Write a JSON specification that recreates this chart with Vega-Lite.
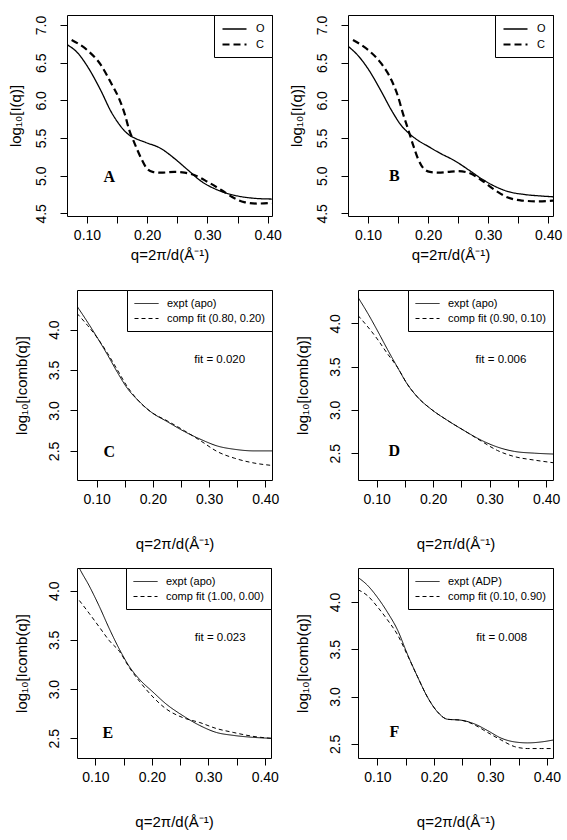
{
  "$schema": "https://vega.github.io/schema/vega-lite/v6.json",
  "padding": {"left": 7, "top": 14, "right": 0, "bottom": 5},
  "background": "white",
  "datasets": {
    "curves": [
      {"p":"A","s":"O","q":0.0668,"v":6.74},{"p":"A","s":"O","q":0.0845,"v":6.63},{"p":"A","s":"O","q":0.10,"v":6.46},{"p":"A","s":"O","q":0.123,"v":6.13},{"p":"A","s":"O","q":0.140,"v":5.85},{"p":"A","s":"O","q":0.151,"v":5.71},{"p":"A","s":"O","q":0.170,"v":5.54},{"p":"A","s":"O","q":0.179,"v":5.50},{"p":"A","s":"O","q":0.198,"v":5.44},{"p":"A","s":"O","q":0.223,"v":5.36},{"p":"A","s":"O","q":0.245,"v":5.23},{"p":"A","s":"O","q":0.267,"v":5.08},{"p":"A","s":"O","q":0.289,"v":4.93},{"p":"A","s":"O","q":0.317,"v":4.81},{"p":"A","s":"O","q":0.345,"v":4.74},{"p":"A","s":"O","q":0.378,"v":4.70},{"p":"A","s":"O","q":0.407,"v":4.69},
      {"p":"A","s":"C","q":0.0745,"v":6.80},{"p":"A","s":"C","q":0.10,"v":6.67},{"p":"A","s":"C","q":0.123,"v":6.47},{"p":"A","s":"C","q":0.140,"v":6.23},{"p":"A","s":"C","q":0.154,"v":6.01},{"p":"A","s":"C","q":0.163,"v":5.81},{"p":"A","s":"C","q":0.170,"v":5.61},{"p":"A","s":"C","q":0.179,"v":5.43},{"p":"A","s":"C","q":0.190,"v":5.23},{"p":"A","s":"C","q":0.199,"v":5.10},{"p":"A","s":"C","q":0.209,"v":5.05},{"p":"A","s":"C","q":0.223,"v":5.04},{"p":"A","s":"C","q":0.245,"v":5.05},{"p":"A","s":"C","q":0.262,"v":5.04},{"p":"A","s":"C","q":0.278,"v":5.01},{"p":"A","s":"C","q":0.300,"v":4.92},{"p":"A","s":"C","q":0.323,"v":4.81},{"p":"A","s":"C","q":0.345,"v":4.70},{"p":"A","s":"C","q":0.361,"v":4.65},{"p":"A","s":"C","q":0.383,"v":4.63},{"p":"A","s":"C","q":0.407,"v":4.64},
      {"p":"B","s":"O","q":0.0667,"v":6.72},{"p":"B","s":"O","q":0.085,"v":6.58},{"p":"B","s":"O","q":0.10,"v":6.42},{"p":"B","s":"O","q":0.122,"v":6.12},{"p":"B","s":"O","q":0.139,"v":5.87},{"p":"B","s":"O","q":0.156,"v":5.66},{"p":"B","s":"O","q":0.170,"v":5.55},{"p":"B","s":"O","q":0.183,"v":5.47},{"p":"B","s":"O","q":0.200,"v":5.39},{"p":"B","s":"O","q":0.222,"v":5.29},{"p":"B","s":"O","q":0.244,"v":5.20},{"p":"B","s":"O","q":0.267,"v":5.08},{"p":"B","s":"O","q":0.289,"v":4.96},{"p":"B","s":"O","q":0.311,"v":4.86},{"p":"B","s":"O","q":0.333,"v":4.79},{"p":"B","s":"O","q":0.361,"v":4.75},{"p":"B","s":"O","q":0.389,"v":4.73},{"p":"B","s":"O","q":0.408,"v":4.72},
      {"p":"B","s":"C","q":0.075,"v":6.80},{"p":"B","s":"C","q":0.10,"v":6.67},{"p":"B","s":"C","q":0.122,"v":6.49},{"p":"B","s":"C","q":0.139,"v":6.27},{"p":"B","s":"C","q":0.150,"v":6.05},{"p":"B","s":"C","q":0.158,"v":5.83},{"p":"B","s":"C","q":0.167,"v":5.61},{"p":"B","s":"C","q":0.175,"v":5.41},{"p":"B","s":"C","q":0.183,"v":5.23},{"p":"B","s":"C","q":0.192,"v":5.10},{"p":"B","s":"C","q":0.203,"v":5.05},{"p":"B","s":"C","q":0.217,"v":5.04},{"p":"B","s":"C","q":0.233,"v":5.05},{"p":"B","s":"C","q":0.250,"v":5.06},{"p":"B","s":"C","q":0.267,"v":5.04},{"p":"B","s":"C","q":0.289,"v":4.94},{"p":"B","s":"C","q":0.311,"v":4.81},{"p":"B","s":"C","q":0.333,"v":4.71},{"p":"B","s":"C","q":0.356,"v":4.67},{"p":"B","s":"C","q":0.383,"v":4.66},{"p":"B","s":"C","q":0.408,"v":4.67},
      {"p":"C","s":"expt (apo)","q":0.065,"v":4.29},{"p":"C","s":"expt (apo)","q":0.084,"v":4.09},{"p":"C","s":"expt (apo)","q":0.102,"v":3.89},{"p":"C","s":"expt (apo)","q":0.120,"v":3.68},{"p":"C","s":"expt (apo)","q":0.137,"v":3.47},{"p":"C","s":"expt (apo)","q":0.155,"v":3.27},{"p":"C","s":"expt (apo)","q":0.173,"v":3.13},{"p":"C","s":"expt (apo)","q":0.197,"v":2.98},{"p":"C","s":"expt (apo)","q":0.226,"v":2.86},{"p":"C","s":"expt (apo)","q":0.256,"v":2.74},{"p":"C","s":"expt (apo)","q":0.286,"v":2.64},{"p":"C","s":"expt (apo)","q":0.315,"v":2.56},{"p":"C","s":"expt (apo)","q":0.345,"v":2.52},{"p":"C","s":"expt (apo)","q":0.380,"v":2.50},{"p":"C","s":"expt (apo)","q":0.412,"v":2.50},
      {"p":"C","s":"comp fit (0.80, 0.20)","q":0.065,"v":4.20},{"p":"C","s":"comp fit (0.80, 0.20)","q":0.084,"v":4.05},{"p":"C","s":"comp fit (0.80, 0.20)","q":0.102,"v":3.89},{"p":"C","s":"comp fit (0.80, 0.20)","q":0.120,"v":3.70},{"p":"C","s":"comp fit (0.80, 0.20)","q":0.137,"v":3.50},{"p":"C","s":"comp fit (0.80, 0.20)","q":0.155,"v":3.29},{"p":"C","s":"comp fit (0.80, 0.20)","q":0.173,"v":3.13},{"p":"C","s":"comp fit (0.80, 0.20)","q":0.197,"v":2.98},{"p":"C","s":"comp fit (0.80, 0.20)","q":0.226,"v":2.87},{"p":"C","s":"comp fit (0.80, 0.20)","q":0.256,"v":2.75},{"p":"C","s":"comp fit (0.80, 0.20)","q":0.286,"v":2.62},{"p":"C","s":"comp fit (0.80, 0.20)","q":0.315,"v":2.49},{"p":"C","s":"comp fit (0.80, 0.20)","q":0.345,"v":2.41},{"p":"C","s":"comp fit (0.80, 0.20)","q":0.380,"v":2.35},{"p":"C","s":"comp fit (0.80, 0.20)","q":0.412,"v":2.32},
      {"p":"D","s":"expt (apo)","q":0.067,"v":4.30},{"p":"D","s":"expt (apo)","q":0.083,"v":4.13},{"p":"D","s":"expt (apo)","q":0.101,"v":3.92},{"p":"D","s":"expt (apo)","q":0.119,"v":3.70},{"p":"D","s":"expt (apo)","q":0.137,"v":3.49},{"p":"D","s":"expt (apo)","q":0.154,"v":3.30},{"p":"D","s":"expt (apo)","q":0.172,"v":3.15},{"p":"D","s":"expt (apo)","q":0.196,"v":3.01},{"p":"D","s":"expt (apo)","q":0.225,"v":2.88},{"p":"D","s":"expt (apo)","q":0.255,"v":2.76},{"p":"D","s":"expt (apo)","q":0.285,"v":2.65},{"p":"D","s":"expt (apo)","q":0.314,"v":2.57},{"p":"D","s":"expt (apo)","q":0.344,"v":2.52},{"p":"D","s":"expt (apo)","q":0.379,"v":2.50},{"p":"D","s":"expt (apo)","q":0.412,"v":2.49},
      {"p":"D","s":"comp fit (0.90, 0.10)","q":0.067,"v":4.09},{"p":"D","s":"comp fit (0.90, 0.10)","q":0.083,"v":3.97},{"p":"D","s":"comp fit (0.90, 0.10)","q":0.101,"v":3.82},{"p":"D","s":"comp fit (0.90, 0.10)","q":0.119,"v":3.65},{"p":"D","s":"comp fit (0.90, 0.10)","q":0.137,"v":3.49},{"p":"D","s":"comp fit (0.90, 0.10)","q":0.154,"v":3.30},{"p":"D","s":"comp fit (0.90, 0.10)","q":0.172,"v":3.15},{"p":"D","s":"comp fit (0.90, 0.10)","q":0.196,"v":3.01},{"p":"D","s":"comp fit (0.90, 0.10)","q":0.225,"v":2.88},{"p":"D","s":"comp fit (0.90, 0.10)","q":0.255,"v":2.76},{"p":"D","s":"comp fit (0.90, 0.10)","q":0.285,"v":2.64},{"p":"D","s":"comp fit (0.90, 0.10)","q":0.314,"v":2.53},{"p":"D","s":"comp fit (0.90, 0.10)","q":0.344,"v":2.46},{"p":"D","s":"comp fit (0.90, 0.10)","q":0.379,"v":2.42},{"p":"D","s":"comp fit (0.90, 0.10)","q":0.412,"v":2.39},
      {"p":"E","s":"expt (apo)","q":0.0675,"v":4.28},{"p":"E","s":"expt (apo)","q":0.0716,"v":4.23},{"p":"E","s":"expt (apo)","q":0.089,"v":4.05},{"p":"E","s":"expt (apo)","q":0.107,"v":3.84},{"p":"E","s":"expt (apo)","q":0.125,"v":3.61},{"p":"E","s":"expt (apo)","q":0.143,"v":3.40},{"p":"E","s":"expt (apo)","q":0.160,"v":3.23},{"p":"E","s":"expt (apo)","q":0.178,"v":3.10},{"p":"E","s":"expt (apo)","q":0.202,"v":2.97},{"p":"E","s":"expt (apo)","q":0.225,"v":2.85},{"p":"E","s":"expt (apo)","q":0.255,"v":2.73},{"p":"E","s":"expt (apo)","q":0.285,"v":2.63},{"p":"E","s":"expt (apo)","q":0.314,"v":2.56},{"p":"E","s":"expt (apo)","q":0.344,"v":2.53},{"p":"E","s":"expt (apo)","q":0.379,"v":2.51},{"p":"E","s":"expt (apo)","q":0.411,"v":2.50},
      {"p":"E","s":"comp fit (1.00, 0.00)","q":0.0716,"v":3.90},{"p":"E","s":"comp fit (1.00, 0.00)","q":0.089,"v":3.77},{"p":"E","s":"comp fit (1.00, 0.00)","q":0.107,"v":3.63},{"p":"E","s":"comp fit (1.00, 0.00)","q":0.125,"v":3.49},{"p":"E","s":"comp fit (1.00, 0.00)","q":0.143,"v":3.38},{"p":"E","s":"comp fit (1.00, 0.00)","q":0.160,"v":3.22},{"p":"E","s":"comp fit (1.00, 0.00)","q":0.178,"v":3.08},{"p":"E","s":"comp fit (1.00, 0.00)","q":0.202,"v":2.92},{"p":"E","s":"comp fit (1.00, 0.00)","q":0.225,"v":2.80},{"p":"E","s":"comp fit (1.00, 0.00)","q":0.255,"v":2.71},{"p":"E","s":"comp fit (1.00, 0.00)","q":0.285,"v":2.66},{"p":"E","s":"comp fit (1.00, 0.00)","q":0.314,"v":2.60},{"p":"E","s":"comp fit (1.00, 0.00)","q":0.344,"v":2.56},{"p":"E","s":"comp fit (1.00, 0.00)","q":0.379,"v":2.52},{"p":"E","s":"comp fit (1.00, 0.00)","q":0.411,"v":2.50},
      {"p":"F","s":"expt (ADP)","q":0.0657,"v":4.26},{"p":"F","s":"expt (ADP)","q":0.082,"v":4.18},{"p":"F","s":"expt (ADP)","q":0.100,"v":4.05},{"p":"F","s":"expt (ADP)","q":0.118,"v":3.89},{"p":"F","s":"expt (ADP)","q":0.136,"v":3.70},{"p":"F","s":"expt (ADP)","q":0.153,"v":3.45},{"p":"F","s":"expt (ADP)","q":0.171,"v":3.21},{"p":"F","s":"expt (ADP)","q":0.189,"v":2.99},{"p":"F","s":"expt (ADP)","q":0.206,"v":2.84},{"p":"F","s":"expt (ADP)","q":0.224,"v":2.76},{"p":"F","s":"expt (ADP)","q":0.248,"v":2.75},{"p":"F","s":"expt (ADP)","q":0.272,"v":2.71},{"p":"F","s":"expt (ADP)","q":0.295,"v":2.64},{"p":"F","s":"expt (ADP)","q":0.319,"v":2.56},{"p":"F","s":"expt (ADP)","q":0.343,"v":2.52},{"p":"F","s":"expt (ADP)","q":0.366,"v":2.51},{"p":"F","s":"expt (ADP)","q":0.390,"v":2.52},{"p":"F","s":"expt (ADP)","q":0.411,"v":2.54},
      {"p":"F","s":"comp fit (0.10, 0.90)","q":0.0657,"v":4.13},{"p":"F","s":"comp fit (0.10, 0.90)","q":0.082,"v":4.07},{"p":"F","s":"comp fit (0.10, 0.90)","q":0.100,"v":3.95},{"p":"F","s":"comp fit (0.10, 0.90)","q":0.118,"v":3.81},{"p":"F","s":"comp fit (0.10, 0.90)","q":0.136,"v":3.65},{"p":"F","s":"comp fit (0.10, 0.90)","q":0.153,"v":3.44},{"p":"F","s":"comp fit (0.10, 0.90)","q":0.171,"v":3.21},{"p":"F","s":"comp fit (0.10, 0.90)","q":0.189,"v":2.99},{"p":"F","s":"comp fit (0.10, 0.90)","q":0.206,"v":2.84},{"p":"F","s":"comp fit (0.10, 0.90)","q":0.224,"v":2.76},{"p":"F","s":"comp fit (0.10, 0.90)","q":0.248,"v":2.75},{"p":"F","s":"comp fit (0.10, 0.90)","q":0.272,"v":2.70},{"p":"F","s":"comp fit (0.10, 0.90)","q":0.295,"v":2.62},{"p":"F","s":"comp fit (0.10, 0.90)","q":0.319,"v":2.54},{"p":"F","s":"comp fit (0.10, 0.90)","q":0.343,"v":2.47},{"p":"F","s":"comp fit (0.10, 0.90)","q":0.366,"v":2.45},{"p":"F","s":"comp fit (0.10, 0.90)","q":0.390,"v":2.45},{"p":"F","s":"comp fit (0.10, 0.90)","q":0.411,"v":2.45}
    ],
    "letters": [
      {"p":"A","t":"A","q":0.137,"v":4.98},
      {"p":"B","t":"B","q":0.144,"v":4.99},
      {"p":"C","t":"C","q":0.1225,"v":2.49},
      {"p":"D","t":"D","q":0.131,"v":2.52},
      {"p":"E","t":"E","q":0.122,"v":2.55},
      {"p":"F","t":"F","q":0.130,"v":2.62}
    ],
    "fits": [
      {"p":"C","t":"fit = 0.020","q":0.319,"v":3.63},
      {"p":"D","t":"fit = 0.006","q":0.320,"v":3.58},
      {"p":"E","t":"fit = 0.023","q":0.321,"v":3.52},
      {"p":"F","t":"fit = 0.008","q":0.320,"v":3.62}
    ],
    "empty": []
  },
  "config": {
    "font": "Liberation Sans",
    "view": {"stroke": "black", "strokeWidth": 1},
    "axis": {"domain": false, "grid": false, "tickColor": "black", "tickSize": 7, "tickWidth": 1, "labelColor": "black", "labelFont": "Liberation Sans", "labelFontSize": 14, "titleColor": "black", "titleFont": "Liberation Sans", "titleFontSize": 15, "titleFontWeight": "normal", "labelOverlap": false, "labelFlush": false},
    "axisY": {"labelAngle": -90, "labelAlign": "center", "labelBaseline": "bottom"},
    "legend": {"orient": "top-right", "offset": 0, "padding": 7, "strokeColor": "black", "fillColor": "white", "cornerRadius": 0, "symbolType": "M-1,0H3", "symbolSize": 144, "symbolStrokeColor": "black", "symbolStrokeWidth": 1, "labelOffset": 20, "rowPadding": 3, "labelFont": "Liberation Sans", "labelFontSize": 11, "labelColor": "black", "labelLimit": 300}
  },
  "columns": 1,
  "align": "none",
  "spacing": 26,
  "resolve": {"scale": {"strokeDash": "independent", "strokeWidth": "independent"}, "legend": {"strokeDash": "independent", "strokeWidth": "independent"}},
  "concat": [
    {
      "hconcat": [
        {
          "width": 205, "height": 201,
          "encoding": {
            "x": {"field": "q", "type": "quantitative", "scale": {"domain": [0.0668, 0.4073], "nice": false, "zero": false}, "axis": {"title": "q=2π/d(Å⁻¹)", "values": [0.1, 0.15, 0.2, 0.25, 0.3, 0.35, 0.4], "labelExpr": "round(datum.value*20) % 2 === 0 ? format(datum.value, '.2f') : ''", "labelPadding": 5, "titlePadding": 5}},
            "y": {"field": "v", "type": "quantitative", "scale": {"domain": [4.465, 7.133], "nice": false, "zero": false}, "axis": {"title": "log₁₀[I(q)]", "values": [4.5, 5, 5.5, 6, 6.5, 7], "format": ".1f", "labelPadding": 12, "titlePadding": 11}}
          },
          "layer": [
            {"data": {"name": "curves"}, "transform": [{"filter": "datum.p === 'A'"}], "mark": {"type": "line", "color": "black", "clip": true, "interpolate": "monotone"},
             "encoding": {
               "strokeDash": {"field": "s", "type": "ordinal", "scale": {"domain": ["O", "C"], "range": [[1, 0], [7, 4]]}, "legend": {"title": null}},
               "strokeWidth": {"field": "s", "type": "ordinal", "scale": {"domain": ["O", "C"], "range": [1.3, 2.2]}, "legend": {"title": null}}
             }},
            {"data": {"name": "letters"}, "transform": [{"filter": "datum.p === 'A'"}], "mark": {"type": "text", "font": "Liberation Serif", "fontWeight": "bold", "fontSize": 16, "color": "black"}, "encoding": {"text": {"field": "t"}}}
          ]
        },
        {
          "width": 205, "height": 201,
          "encoding": {
            "x": {"field": "q", "type": "quantitative", "scale": {"domain": [0.0667, 0.408], "nice": false, "zero": false}, "axis": {"title": "q=2π/d(Å⁻¹)", "values": [0.1, 0.15, 0.2, 0.25, 0.3, 0.35, 0.4], "labelExpr": "round(datum.value*20) % 2 === 0 ? format(datum.value, '.2f') : ''", "labelPadding": 5, "titlePadding": 5}},
            "y": {"field": "v", "type": "quantitative", "scale": {"domain": [4.465, 7.133], "nice": false, "zero": false}, "axis": {"title": "log₁₀[I(q)]", "values": [4.5, 5, 5.5, 6, 6.5, 7], "format": ".1f", "labelPadding": 12, "titlePadding": 11}}
          },
          "layer": [
            {"data": {"name": "curves"}, "transform": [{"filter": "datum.p === 'B'"}], "mark": {"type": "line", "color": "black", "clip": true, "interpolate": "monotone"},
             "encoding": {
               "strokeDash": {"field": "s", "type": "ordinal", "scale": {"domain": ["O", "C"], "range": [[1, 0], [7, 4]]}, "legend": {"title": null}},
               "strokeWidth": {"field": "s", "type": "ordinal", "scale": {"domain": ["O", "C"], "range": [1.3, 2.2]}, "legend": {"title": null}}
             }},
            {"data": {"name": "letters"}, "transform": [{"filter": "datum.p === 'B'"}], "mark": {"type": "text", "font": "Liberation Serif", "fontWeight": "bold", "fontSize": 16, "color": "black"}, "encoding": {"text": {"field": "t"}}}
          ]
        }
      ],
      "spacing": 76, "bounds": "flush",
      "resolve": {"scale": {"strokeDash": "independent", "strokeWidth": "independent"}, "legend": {"strokeDash": "independent", "strokeWidth": "independent"}}
    },
    {
      "vconcat": [
        {
          "hconcat": [
            {"width": 5, "height": 190, "data": {"name": "empty"}, "mark": "point", "view": {"stroke": null}},
            {
              "width": 195, "height": 190,
              "encoding": {
                "x": {"field": "q", "type": "quantitative", "scale": {"domain": [0.065, 0.412], "nice": false, "zero": false}, "axis": {"title": "q=2π/d(Å⁻¹)", "values": [0.1, 0.15, 0.2, 0.25, 0.3, 0.35, 0.4], "labelExpr": "round(datum.value*20) % 2 === 0 ? format(datum.value, '.2f') : ''", "labelPadding": 5, "titlePadding": 30}},
                "y": {"field": "v", "type": "quantitative", "scale": {"domain": [2.14, 4.49], "nice": false, "zero": false}, "axis": {"title": "log₁₀[Icomb(q)]", "values": [2.5, 3, 3.5, 4], "format": ".1f", "labelPadding": 9, "titlePadding": 18}}
              },
              "layer": [
                {"data": {"name": "curves"}, "transform": [{"filter": "datum.p === 'C'"}], "mark": {"type": "line", "color": "black", "strokeWidth": 1, "clip": true, "interpolate": "monotone"},
                 "encoding": {"strokeDash": {"field": "s", "type": "ordinal", "scale": {"domain": ["expt (apo)", "comp fit (0.80, 0.20)"], "range": [[1, 0], [4, 3]]}, "legend": {"title": null}}}},
                {"data": {"name": "letters"}, "transform": [{"filter": "datum.p === 'C'"}], "mark": {"type": "text", "font": "Liberation Serif", "fontWeight": "bold", "fontSize": 16, "color": "black"}, "encoding": {"text": {"field": "t"}}},
                {"data": {"name": "fits"}, "transform": [{"filter": "datum.p === 'C'"}], "mark": {"type": "text", "font": "Liberation Sans", "fontSize": 11.5, "color": "black"}, "encoding": {"text": {"field": "t"}}}
              ]
            },
            {"width": 76, "height": 190, "data": {"name": "empty"}, "mark": "point", "view": {"stroke": null}},
            {
              "width": 195, "height": 190,
              "encoding": {
                "x": {"field": "q", "type": "quantitative", "scale": {"domain": [0.067, 0.412], "nice": false, "zero": false}, "axis": {"title": "q=2π/d(Å⁻¹)", "values": [0.1, 0.15, 0.2, 0.25, 0.3, 0.35, 0.4], "labelExpr": "round(datum.value*20) % 2 === 0 ? format(datum.value, '.2f') : ''", "labelPadding": 5, "titlePadding": 30}},
                "y": {"field": "v", "type": "quantitative", "scale": {"domain": [2.19, 4.385], "nice": false, "zero": false}, "axis": {"title": "log₁₀[Icomb(q)]", "values": [2.5, 3, 3.5, 4], "format": ".1f", "labelPadding": 9, "titlePadding": 18}}
              },
              "layer": [
                {"data": {"name": "curves"}, "transform": [{"filter": "datum.p === 'D'"}], "mark": {"type": "line", "color": "black", "strokeWidth": 1, "clip": true, "interpolate": "monotone"},
                 "encoding": {"strokeDash": {"field": "s", "type": "ordinal", "scale": {"domain": ["expt (apo)", "comp fit (0.90, 0.10)"], "range": [[1, 0], [4, 3]]}, "legend": {"title": null}}}},
                {"data": {"name": "letters"}, "transform": [{"filter": "datum.p === 'D'"}], "mark": {"type": "text", "font": "Liberation Serif", "fontWeight": "bold", "fontSize": 16, "color": "black"}, "encoding": {"text": {"field": "t"}}},
                {"data": {"name": "fits"}, "transform": [{"filter": "datum.p === 'D'"}], "mark": {"type": "text", "font": "Liberation Sans", "fontSize": 11.5, "color": "black"}, "encoding": {"text": {"field": "t"}}}
              ]
            }
          ],
          "spacing": 5, "bounds": "flush",
          "resolve": {"scale": {"strokeDash": "independent"}, "legend": {"strokeDash": "independent"}}
        },
        {
          "hconcat": [
            {"width": 5, "height": 190, "data": {"name": "empty"}, "mark": "point", "view": {"stroke": null}},
            {
              "width": 194, "height": 190,
              "encoding": {
                "x": {"field": "q", "type": "quantitative", "scale": {"domain": [0.0675, 0.411], "nice": false, "zero": false}, "axis": {"title": "q=2π/d(Å⁻¹)", "values": [0.1, 0.15, 0.2, 0.25, 0.3, 0.35, 0.4], "labelExpr": "round(datum.value*20) % 2 === 0 ? format(datum.value, '.2f') : ''", "labelPadding": 5, "titlePadding": 30}},
                "y": {"field": "v", "type": "quantitative", "scale": {"domain": [2.30, 4.23], "nice": false, "zero": false}, "axis": {"title": "log₁₀[Icomb(q)]", "values": [2.5, 3, 3.5, 4], "format": ".1f", "labelPadding": 9, "titlePadding": 18}}
              },
              "layer": [
                {"data": {"name": "curves"}, "transform": [{"filter": "datum.p === 'E'"}], "mark": {"type": "line", "color": "black", "strokeWidth": 1, "clip": true, "interpolate": "monotone"},
                 "encoding": {"strokeDash": {"field": "s", "type": "ordinal", "scale": {"domain": ["expt (apo)", "comp fit (1.00, 0.00)"], "range": [[1, 0], [4, 3]]}, "legend": {"title": null}}}},
                {"data": {"name": "letters"}, "transform": [{"filter": "datum.p === 'E'"}], "mark": {"type": "text", "font": "Liberation Serif", "fontWeight": "bold", "fontSize": 16, "color": "black"}, "encoding": {"text": {"field": "t"}}},
                {"data": {"name": "fits"}, "transform": [{"filter": "datum.p === 'E'"}], "mark": {"type": "text", "font": "Liberation Sans", "fontSize": 11.5, "color": "black"}, "encoding": {"text": {"field": "t"}}}
              ]
            },
            {"width": 77, "height": 190, "data": {"name": "empty"}, "mark": "point", "view": {"stroke": null}},
            {
              "width": 195, "height": 190,
              "encoding": {
                "x": {"field": "q", "type": "quantitative", "scale": {"domain": [0.0657, 0.4107], "nice": false, "zero": false}, "axis": {"title": "q=2π/d(Å⁻¹)", "values": [0.1, 0.15, 0.2, 0.25, 0.3, 0.35, 0.4], "labelExpr": "round(datum.value*20) % 2 === 0 ? format(datum.value, '.2f') : ''", "labelPadding": 5, "titlePadding": 30}},
                "y": {"field": "v", "type": "quantitative", "scale": {"domain": [2.35, 4.36], "nice": false, "zero": false}, "axis": {"title": "log₁₀[Icomb(q)]", "values": [2.5, 3, 3.5, 4], "format": ".1f", "labelPadding": 9, "titlePadding": 18}}
              },
              "layer": [
                {"data": {"name": "curves"}, "transform": [{"filter": "datum.p === 'F'"}], "mark": {"type": "line", "color": "black", "strokeWidth": 1, "clip": true, "interpolate": "monotone"},
                 "encoding": {"strokeDash": {"field": "s", "type": "ordinal", "scale": {"domain": ["expt (ADP)", "comp fit (0.10, 0.90)"], "range": [[1, 0], [4, 3]]}, "legend": {"title": null}}}},
                {"data": {"name": "letters"}, "transform": [{"filter": "datum.p === 'F'"}], "mark": {"type": "text", "font": "Liberation Serif", "fontWeight": "bold", "fontSize": 16, "color": "black"}, "encoding": {"text": {"field": "t"}}},
                {"data": {"name": "fits"}, "transform": [{"filter": "datum.p === 'F'"}], "mark": {"type": "text", "font": "Liberation Sans", "fontSize": 11.5, "color": "black"}, "encoding": {"text": {"field": "t"}}}
              ]
            }
          ],
          "spacing": 5, "bounds": "flush",
          "resolve": {"scale": {"strokeDash": "independent"}, "legend": {"strokeDash": "independent"}}
        }
      ],
      "spacing": 15,
      "resolve": {"scale": {"strokeDash": "independent"}, "legend": {"strokeDash": "independent"}}
    }
  ]
}
